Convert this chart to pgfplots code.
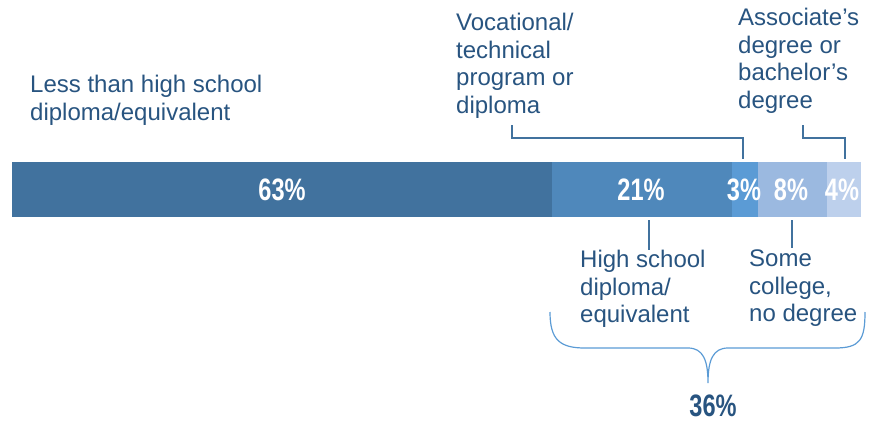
\documentclass[border=0pt]{standalone}
\usepackage{pgfplots}
\pgfplotsset{compat=1.18}
\usepackage{fontspec}
\setmainfont{Liberation Sans}
\newfontfamily\narrowfont{Liberation Sans}[FakeStretch=0.76]

\definecolor{segA}{RGB}{65,114,158}
\definecolor{segB}{RGB}{79,136,187}
\definecolor{segC}{RGB}{91,155,213}
\definecolor{segD}{RGB}{155,185,224}
\definecolor{segE}{RGB}{189,208,236}
\definecolor{lbl}{RGB}{40,84,128}
\definecolor{lead}{RGB}{65,114,158}
\definecolor{brace}{RGB}{91,155,213}

\tikzset{pctlabel/.style={text=white, anchor=center, inner sep=0pt,
    font=\narrowfont\bfseries\fontsize{31}{33}\selectfont}}

\begin{document}
\begin{tikzpicture}
\useasboundingbox (0pt,0pt) rectangle (875pt,-423pt);
\begin{axis}[
    at={(12pt,-217pt)}, anchor=south west,
    xbar stacked, hide axis,
    scale only axis, width=849pt, height=55pt,
    xmin=0, xmax=99, ymin=-0.5, ymax=0.5,
    bar width=55pt,
  ]
  \addplot[fill=segA, draw=none] coordinates {(63,0)};
  \addplot[fill=segB, draw=none] coordinates {(21,0)};
  \addplot[fill=segC, draw=none] coordinates {(3,0)};
  \addplot[fill=segD, draw=none] coordinates {(8,0)};
  \addplot[fill=segE, draw=none] coordinates {(4,0)};
\end{axis}

\begin{scope}[x=1pt, y=-1pt,
    every node/.style={text=lbl, anchor=north west, align=left, inner sep=0pt,
      font=\fontsize{24}{27.5}\selectfont}]
  % segment labels
  \node[pctlabel] at (282,190) {63\%};
  \node[pctlabel] at (641,190) {21\%};
  \node[pctlabel] at (744,190) {3\%};
  \node[pctlabel] at (791,190) {8\%};
  \node[pctlabel] at (842,190) {4\%};

  \node at (30,75) {Less than high school\\diploma/equivalent};
  \node at (456,13) {Vocational/\\technical\\program or\\diploma};
  \node at (738,8) {Associate’s\\degree or\\bachelor’s\\degree};
  \node at (580,250) {High school\\diploma/\\equivalent};
  \node at (749,250) {Some\\college,\\no degree};

  \draw[lead, line width=2.6pt] (512,125) -- (512,138) -- (743,138) -- (743,159);
  \draw[lead, line width=2.6pt] (803,125) -- (803,138) -- (845,138) -- (845,159);
  \draw[lead, line width=2.6pt] (649,220) -- (649,250);
  \draw[lead, line width=2.6pt] (792,220) -- (792,248);

  \draw[brace, line width=1.2pt] (550,312) .. controls (550,340) and (560,348) .. (585,348)
    -- (688,348) .. controls (703,348) and (708,360) .. (708,383)
    .. controls (708,360) and (713,348) .. (728,348) -- (835,348)
    .. controls (860,348) and (865,340) .. (865,312);

  \node[pctlabel, text=lbl] at (713,406) {36\%};
\end{scope}
\end{tikzpicture}
\end{document}
